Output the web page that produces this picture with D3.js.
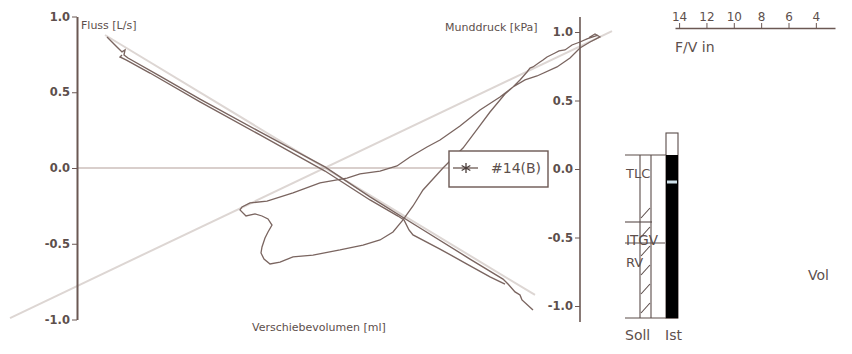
<!DOCTYPE html>
<html>
<head>
<meta charset="utf-8">
<script src="https://cdn.jsdelivr.net/npm/d3@7"></script>
<style>
  body { margin: 0; background: #fff; }
  text { font-family: "DejaVu Sans", Verdana, sans-serif; fill: #5d4f4c; }
</style>
</head>
<body>
<svg id="chart" width="852" height="354"></svg>
<script>
// ---- data -------------------------------------------------------------
// Flow / shift-volume loop: [Verschiebevolumen ml, Fluss L/s]
const flowLoop = [
  [-44.0, 0.865], [-43.0, 0.832], [-41.8, 0.792], [-41.0, 0.766], [-40.4, 0.779],
  [-40.6, 0.746], [-39.8, 0.726], [-33.4, 0.607], [-25.4, 0.455], [-13.4, 0.238],
  [-0.4, 0.007], [8.6, -0.191], [18.6, -0.396], [28.6, -0.601], [35.2, -0.733],
  [36.2, -0.766], [37.6, -0.818], [38.6, -0.838], [39.0, -0.871], [41.2, -0.937]
];
const flowReturn = [
  [35.6, -0.766], [32.6, -0.719], [28.0, -0.634], [22.6, -0.535], [17.2, -0.442],
  [16.4, -0.409], [15.4, -0.343], [14.2, -0.317], [8.6, -0.211], [-0.4, -0.020],
  [-13.4, 0.218], [-25.4, 0.436], [-35.4, 0.627], [-40.2, 0.713], [-41.4, 0.733],
  [-41.0, 0.746]
];
// Mouth-pressure / shift-volume loop: [Verschiebevolumen ml, Munddruck kPa]
const pressureLoop = [
  [54.2, 0.978], [52.0, 0.950], [50.6, 0.927], [49.0, 0.905], [47.6, 0.869],
  [46.4, 0.862], [45.6, 0.847], [44.0, 0.818], [43.2, 0.796], [42.6, 0.781],
  [41.2, 0.745], [40.6, 0.737], [40.0, 0.708], [38.6, 0.650], [37.2, 0.599],
  [34.6, 0.526], [30.6, 0.431], [26.6, 0.314], [22.6, 0.212], [20.0, 0.161],
  [16.6, 0.088], [14.0, 0.022], [10.6, -0.015], [6.6, -0.036], [4.0, -0.066],
  [-1.4, -0.102], [-6.8, -0.175], [-12.0, -0.234], [-15.4, -0.248], [-17.0, -0.277],
  [-17.4, -0.299], [-16.2, -0.343], [-14.4, -0.328], [-13.0, -0.343], [-11.8, -0.365],
  [-11.0, -0.409], [-11.8, -0.460], [-12.4, -0.504], [-13.0, -0.569], [-13.2, -0.613],
  [-12.6, -0.657], [-11.4, -0.693], [-9.4, -0.679], [-6.8, -0.642], [-2.8, -0.628],
  [2.6, -0.591], [7.2, -0.555], [10.6, -0.518], [13.2, -0.460], [15.2, -0.372],
  [17.2, -0.270], [19.2, -0.153], [23.2, 0.007], [27.2, 0.153], [30.2, 0.299],
  [32.6, 0.416], [35.6, 0.547], [37.2, 0.599], [39.6, 0.650], [42.0, 0.679],
  [46.0, 0.745], [48.6, 0.810], [50.6, 0.883], [52.6, 0.927], [54.6, 0.964],
  [53.6, 0.985], [52.4, 0.960]
];
// Regression lines
const flowRef = [[-44.4, 0.878], [41.6, -0.838]];
const pressureRef = [[-63.4, -1.088], [57.0, 1.007]];

// Axis ticks
const axisTicks = [-1, -0.5, 0, 0.5, 1];
const minorTicks = d3.range(-10, 11).map(d => d / 10);
const fvLabels = [14, 12, 10, 8, 6, 4];
const fvMinor = d3.range(3, 15);

// Volume bars (L)
const volIstTop = 7.4;
const volIstTLC = 6.52;
const volIstITGV = 5.44;
const sollLevels = [
  { name: "TLC", value: 6.52 },
  { name: "", value: 3.84 },
  { name: "ITGV", value: 3.0 }
];
const sollHatchTop = 4.52;
const volLabels = ["Soll", "Ist"];

// ---- drawing ----------------------------------------------------------
const svg = d3.select("#chart");
const ink = "#6b5853";
const curve = "#7a6560";
const refCol = "#ddd6d3";

const x = d3.scaleLinear().domain([-50, 50.6]).range([77, 580]);
const yFlow = d3.scaleLinear().domain([-1, 1]).range([319.5, 16.5]);
const yPress = d3.scaleLinear().domain([-1, 1]).range([306, 32]);

const lineFlow = d3.line().x(d => x(d[0])).y(d => yFlow(d[1]));
const linePress = d3.line().x(d => x(d[0])).y(d => yPress(d[1]));

// reference lines
svg.append("path").attr("d", linePress(pressureRef))
  .attr("stroke", refCol).attr("stroke-width", 2).attr("fill", "none");
svg.append("path").attr("d", lineFlow(flowRef))
  .attr("stroke", refCol).attr("stroke-width", 2).attr("fill", "none");

// zero line
svg.append("line")
  .attr("x1", x(-50)).attr("x2", 449)
  .attr("y1", yFlow(0)).attr("y2", yFlow(0))
  .attr("stroke", "#cdbfbb").attr("stroke-width", 1.5);

// loops
svg.append("path").attr("d", linePress(pressureLoop))
  .attr("stroke", curve).attr("stroke-width", 1.3).attr("fill", "none");
svg.append("path").attr("d", lineFlow(flowLoop))
  .attr("stroke", curve).attr("stroke-width", 1.4).attr("fill", "none");
svg.append("path").attr("d", lineFlow(flowReturn))
  .attr("stroke", curve).attr("stroke-width", 1.4).attr("fill", "none");

const fmt = d => d.toFixed(1);

// left axis (Fluss)
const gL = svg.append("g").attr("transform", `translate(${x(-50)},0)`);
gL.call(d3.axisLeft(yFlow).tickValues(minorTicks).tickSize(3).tickFormat(""));
gL.call(d3.axisLeft(yFlow).tickValues(axisTicks).tickSize(5).tickSizeOuter(0).tickPadding(2).tickFormat(fmt));
gL.selectAll("path.domain").attr("stroke", ink).attr("stroke-width", 2);
gL.selectAll("line").attr("stroke", ink);
gL.selectAll("text").style("font-size", "11.5px").style("font-weight", "bold").attr("fill", "#6a5c59");

// right axis (Munddruck)
const gR = svg.append("g").attr("transform", `translate(${x(50.6)},0)`);
gR.call(d3.axisLeft(yPress).tickValues(axisTicks).tickSize(5).tickPadding(2).tickFormat(fmt));
gR.select("path.domain").remove();
gR.append("line").attr("x1", 0).attr("x2", 0).attr("y1", 17).attr("y2", 322)
  .attr("stroke", ink).attr("stroke-width", 1.6);
gR.selectAll("line").attr("stroke", ink);
gR.selectAll("text").style("font-size", "11.5px").style("font-weight", "bold").attr("fill", "#6a5c59");

// axis titles
svg.append("text").attr("x", 81).attr("y", 29).style("font-size", "11px").text("Fluss [L/s]");
svg.append("text").attr("x", 445).attr("y", 31).style("font-size", "11px").text("Munddruck [kPa]");
svg.append("text").attr("x", 252).attr("y", 331).style("font-size", "11px").text("Verschiebevolumen [ml]");

// legend
const lg = svg.append("g");
lg.append("rect").attr("x", 449).attr("y", 151).attr("width", 99).attr("height", 36)
  .attr("fill", "#fff").attr("stroke", ink).attr("stroke-width", 1.4);
lg.append("line").attr("x1", 453).attr("x2", 478).attr("y1", 168).attr("y2", 168)
  .attr("stroke", ink).attr("stroke-width", 1.3);
lg.append("path").attr("d", d3.symbol(d3.symbolAsterisk, 70)())
  .attr("transform", "translate(466,168)").attr("stroke", "#4a3d3a").attr("stroke-width", 1.3).attr("fill", "none");
lg.append("text").attr("x", 491).attr("y", 173).style("font-size", "14px").text("#14(B)");

// F/V scale
const fv = d3.scaleLinear().domain([14.3, 2.6]).range([675, 835]);
const gF = svg.append("g").attr("transform", "translate(0,28)");
gF.call(d3.axisTop(fv).tickValues(fvMinor).tickSize(3).tickSizeOuter(0).tickFormat(""));
gF.call(d3.axisTop(fv).tickValues(fvLabels).tickSize(5).tickSizeOuter(0).tickPadding(2).tickFormat(d3.format("d")));
gF.selectAll("path.domain").attr("stroke", ink).attr("stroke-width", 1.3);
gF.selectAll("line").attr("stroke", ink);
gF.selectAll("text").style("font-size", "12px").attr("fill", "#5d4f4c");
svg.append("text").attr("x", 675).attr("y", 52).style("font-size", "14px").text("F/V in");

// volume panel
const vy = d3.scaleLinear().domain([0, volIstTop]).range([318, 133]);
const vInk = "#5a4c49";
const defs = svg.append("defs");
const pat = defs.append("pattern").attr("id", "hatch").attr("patternUnits", "userSpaceOnUse")
  .attr("x", 640).attr("y", vy(sollHatchTop)).attr("width", 11).attr("height", 19);
pat.append("line").attr("x1", 1).attr("y1", 13).attr("x2", 10).attr("y2", 3)
  .attr("stroke", vInk).attr("stroke-width", 1.1);

svg.append("rect").attr("x", 640).attr("y", vy(sollHatchTop)).attr("width", 11)
  .attr("height", vy(0) - vy(sollHatchTop)).attr("fill", "url(#hatch)");
// Soll column borders
[640, 651].forEach(px => svg.append("line").attr("x1", px).attr("x2", px)
  .attr("y1", vy(sollLevels[0].value)).attr("y2", vy(0)).attr("stroke", vInk).attr("stroke-width", 1.1));
// level lines
const levelEnds = [666, 652, 665];
sollLevels.forEach((d, i) => svg.append("line").attr("x1", 625).attr("x2", levelEnds[i])
  .attr("y1", vy(d.value)).attr("y2", vy(d.value)).attr("stroke", vInk).attr("stroke-width", 1.1));
svg.append("line").attr("x1", 625).attr("x2", 678).attr("y1", vy(0)).attr("y2", vy(0))
  .attr("stroke", vInk).attr("stroke-width", 1.1);

svg.append("text").attr("x", 626).attr("y", vy(sollLevels[0].value) + 23).style("font-size", "13px").text("TLC");
svg.append("text").attr("x", 626).attr("y", vy(sollLevels[2].value) + 2).style("font-size", "13.5px").text("ITGV");
svg.append("text").attr("x", 626).attr("y", vy(sollLevels[2].value) + 24).style("font-size", "13px").text("RV");

// Ist bar
svg.append("rect").attr("x", 666).attr("y", vy(volIstTop)).attr("width", 12)
  .attr("height", vy(0) - vy(volIstTop)).attr("fill", "#fff").attr("stroke", vInk).attr("stroke-width", 1.1);
svg.append("rect").attr("x", 666).attr("y", vy(volIstTLC)).attr("width", 12)
  .attr("height", vy(0) - vy(volIstTLC)).attr("fill", "#000");
svg.append("rect").attr("x", 667).attr("y", vy(volIstITGV) - 1.5).attr("width", 10).attr("height", 3)
  .attr("fill", "#cfe1ea");

svg.append("text").attr("x", 625).attr("y", 340).style("font-size", "14px").text(volLabels[0]);
svg.append("text").attr("x", 665).attr("y", 340).style("font-size", "14px").text(volLabels[1]);
svg.append("text").attr("x", 808).attr("y", 280).style("font-size", "14px").text("Vol");
</script>
</body>
</html>
